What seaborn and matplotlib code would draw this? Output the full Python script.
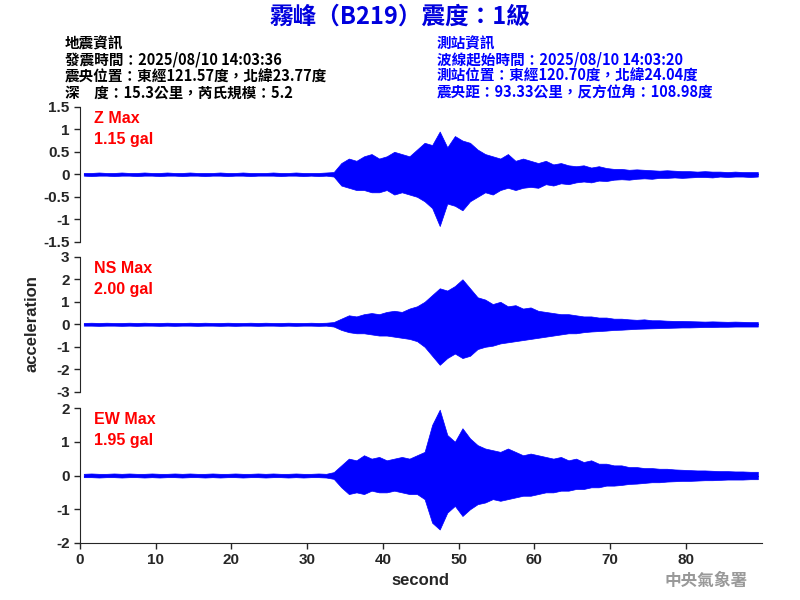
import numpy as np
import matplotlib
matplotlib.use("Agg")
import matplotlib.pyplot as plt
import seaborn as sns

sns.set_style("ticks")
plt.rcParams['font.family'] = ['Noto Sans CJK TC', 'DejaVu Sans']
LAT = "Liberation Sans"

# peak amplitude per second (gal): upper / lower envelope
seconds = np.arange(0, 90)
z_up = [0.03, 0.03, 0.04, 0.03, 0.03, 0.04, 0.03, 0.03, 0.04, 0.03,
        0.03, 0.04, 0.03, 0.03, 0.04, 0.03, 0.03, 0.03, 0.04, 0.03,
        0.03, 0.04, 0.03, 0.03, 0.03, 0.04, 0.03, 0.03, 0.04, 0.03,
        0.03, 0.03, 0.04, 0.05, 0.25, 0.35, 0.30, 0.40, 0.45, 0.35,
        0.40, 0.50, 0.45, 0.40, 0.55, 0.70, 0.65, 0.95, 0.60, 0.85,
        0.75, 0.70, 0.55, 0.45, 0.40, 0.35, 0.45, 0.30, 0.35, 0.30,
        0.25, 0.30, 0.22, 0.25, 0.20, 0.18, 0.20, 0.15, 0.18, 0.14,
        0.12, 0.12, 0.10, 0.11, 0.10, 0.09, 0.08, 0.09, 0.08, 0.07,
        0.07, 0.06, 0.07, 0.06, 0.06, 0.05, 0.06, 0.05, 0.05, 0.05]
z_lo = [0.03, 0.04, 0.03, 0.03, 0.04, 0.03, 0.03, 0.04, 0.03, 0.03,
        0.04, 0.03, 0.03, 0.04, 0.03, 0.03, 0.04, 0.03, 0.03, 0.04,
        0.03, 0.03, 0.04, 0.03, 0.03, 0.03, 0.04, 0.03, 0.03, 0.04,
        0.03, 0.04, 0.03, 0.05, 0.25, 0.30, 0.35, 0.35, 0.40, 0.40,
        0.35, 0.45, 0.40, 0.45, 0.50, 0.60, 0.75, 1.15, 0.65, 0.70,
        0.80, 0.60, 0.50, 0.40, 0.45, 0.35, 0.30, 0.35, 0.30, 0.28,
        0.30, 0.22, 0.25, 0.20, 0.22, 0.18, 0.16, 0.18, 0.14, 0.15,
        0.12, 0.11, 0.12, 0.10, 0.09, 0.10, 0.08, 0.08, 0.07, 0.08,
        0.07, 0.06, 0.06, 0.07, 0.05, 0.06, 0.05, 0.05, 0.06, 0.05]
ns_up = [0.06, 0.07, 0.06, 0.07, 0.06, 0.06, 0.07, 0.06, 0.07, 0.06,
         0.06, 0.07, 0.06, 0.06, 0.07, 0.06, 0.07, 0.06, 0.06, 0.07,
         0.06, 0.06, 0.07, 0.06, 0.07, 0.06, 0.06, 0.07, 0.06, 0.06,
         0.07, 0.06, 0.07, 0.10, 0.25, 0.40, 0.35, 0.45, 0.50, 0.45,
         0.55, 0.60, 0.55, 0.70, 0.80, 1.00, 1.30, 1.60, 1.50, 1.70,
         2.00, 1.60, 1.20, 1.10, 0.90, 1.00, 0.80, 0.85, 0.70, 0.75,
         0.60, 0.55, 0.50, 0.45, 0.45, 0.40, 0.35, 0.35, 0.30, 0.30,
         0.25, 0.25, 0.22, 0.20, 0.22, 0.18, 0.18, 0.16, 0.15, 0.15,
         0.14, 0.13, 0.12, 0.13, 0.12, 0.11, 0.12, 0.11, 0.10, 0.10]
ns_lo = [0.06, 0.06, 0.07, 0.06, 0.06, 0.07, 0.06, 0.07, 0.06, 0.06,
         0.07, 0.06, 0.07, 0.06, 0.06, 0.07, 0.06, 0.06, 0.07, 0.06,
         0.07, 0.06, 0.06, 0.07, 0.06, 0.06, 0.07, 0.06, 0.07, 0.06,
         0.06, 0.07, 0.06, 0.10, 0.25, 0.35, 0.40, 0.40, 0.45, 0.50,
         0.50, 0.55, 0.60, 0.65, 0.75, 1.00, 1.40, 1.80, 1.50, 1.30,
         1.50, 1.40, 1.10, 1.00, 0.95, 0.85, 0.80, 0.75, 0.70, 0.65,
         0.60, 0.55, 0.50, 0.45, 0.40, 0.40, 0.35, 0.32, 0.30, 0.28,
         0.25, 0.24, 0.22, 0.20, 0.19, 0.18, 0.17, 0.16, 0.15, 0.14,
         0.14, 0.13, 0.12, 0.12, 0.11, 0.11, 0.10, 0.10, 0.10, 0.10]
ew_up = [0.05, 0.06, 0.05, 0.05, 0.06, 0.05, 0.06, 0.05, 0.05, 0.06,
         0.05, 0.05, 0.06, 0.05, 0.06, 0.05, 0.05, 0.06, 0.05, 0.05,
         0.06, 0.05, 0.05, 0.06, 0.05, 0.06, 0.05, 0.05, 0.06, 0.05,
         0.05, 0.06, 0.05, 0.10, 0.30, 0.50, 0.45, 0.60, 0.50, 0.55,
         0.45, 0.50, 0.55, 0.50, 0.60, 0.70, 1.50, 1.95, 1.20, 1.00,
         1.40, 1.10, 0.90, 0.80, 0.75, 0.70, 0.80, 0.70, 0.60, 0.65,
         0.60, 0.55, 0.50, 0.55, 0.45, 0.50, 0.40, 0.45, 0.35, 0.35,
         0.30, 0.30, 0.25, 0.25, 0.22, 0.22, 0.20, 0.20, 0.18, 0.17,
         0.16, 0.15, 0.15, 0.14, 0.13, 0.13, 0.12, 0.12, 0.11, 0.11]
ew_lo = [0.05, 0.05, 0.06, 0.05, 0.05, 0.06, 0.05, 0.05, 0.06, 0.05,
         0.06, 0.05, 0.05, 0.06, 0.05, 0.05, 0.06, 0.05, 0.06, 0.05,
         0.05, 0.06, 0.05, 0.05, 0.06, 0.05, 0.05, 0.06, 0.05, 0.06,
         0.05, 0.05, 0.06, 0.10, 0.35, 0.55, 0.50, 0.55, 0.45, 0.50,
         0.50, 0.45, 0.50, 0.55, 0.55, 0.70, 1.40, 1.60, 1.10, 0.90,
         1.20, 1.00, 0.85, 0.80, 0.70, 0.75, 0.70, 0.65, 0.60, 0.60,
         0.55, 0.50, 0.50, 0.45, 0.45, 0.40, 0.40, 0.35, 0.35, 0.30,
         0.30, 0.28, 0.25, 0.24, 0.22, 0.20, 0.20, 0.18, 0.17, 0.16,
         0.16, 0.15, 0.14, 0.14, 0.13, 0.12, 0.12, 0.12, 0.11, 0.11]

channels = ["Z", "NS", "EW"]
max_labels = ["1.15 gal", "2.00 gal", "1.95 gal"]
ylims = [1.5, 3, 2]
yticks = [[-1.5, -1, -0.5, 0, 0.5, 1, 1.5], [-3, -2, -1, 0, 1, 2, 3], [-2, -1, 0, 1, 2]]
ytick_labels = [["-1.5", "-1", "-0.5", "0", "0.5", "1", "1.5"],
                ["-3", "-2", "-1", "0", "1", "2", "3"], ["-2", "-1", "0", "1", "2"]]
ups = [z_up, ns_up, ew_up]
los = [z_lo, ns_lo, ew_lo]

fig = plt.figure(figsize=(8, 6), dpi=100)
bottoms = [0.597, 0.347, 0.095]
for i, ch in enumerate(channels):
    ax = fig.add_axes([0.1, bottoms[i], 0.852, 0.225])
    ax.fill_between(seconds + 0.5, -np.array(los[i]), np.array(ups[i]),
                    color="blue", lw=0.5)
    ax.plot(seconds + 0.5, np.zeros(len(seconds)), color="blue", lw=0.8)
    ax.set_xlim(0, 90)
    ax.set_ylim(-ylims[i], ylims[i])
    ax.set_yticks(yticks[i])
    ax.set_yticklabels(ytick_labels[i], fontsize=11, family=LAT, fontweight="bold")
    ax.tick_params(direction="out", length=4, width=1)
    sns.despine(ax=ax, top=True, right=True, bottom=(i < 2))
    if i < 2:
        ax.set_xticks([])
    else:
        ax.set_xticks(range(0, 90, 10))
        ax.set_xticklabels([str(v) for v in range(0, 90, 10)], fontsize=11,
                           family=LAT, fontweight="bold")
        ax.set_xlabel("second", fontsize=12, fontweight="bold", family=LAT)
    ax.text(0.02, 0.97, f"{ch} Max\n{max_labels[i]}", transform=ax.transAxes, color="red",
            fontsize=11.5, va="top", linespacing=1.5, family=LAT, fontweight="bold")

fig.text(0.04, 0.46, "acceleration", rotation=90, fontsize=12, fontweight="bold",
         va="center", ha="center", family=LAT)

fig.text(0.5, 0.972, "霧峰（B219）震度：1級", color="#0000dd", fontsize=17,
         fontweight="bold", ha="center", va="center")
left_info = ["地震資訊", "發震時間：2025/08/10 14:03:36", "震央位置：東經121.57度，北緯23.77度",
             "深　度：15.3公里，芮氏規模：5.2"]
right_info = ["測站資訊", "波線起始時間：2025/08/10 14:03:20", "測站位置：東經120.70度，北緯24.04度",
              "震央距：93.33公里，反方位角：108.98度"]
for k in range(4):
    y = 0.928 - k * 0.0275
    fig.text(0.081, y, left_info[k], fontsize=10.5, fontweight="bold", color="black", va="center")
    fig.text(0.546, y, right_info[k], fontsize=10.5, fontweight="bold", color="blue", va="center")

fig.text(0.935, 0.032, "中央氣象署", color="#999999", fontsize=12, fontweight="bold",
         ha="right", va="center")

fig.savefig("out.png", dpi=100)
